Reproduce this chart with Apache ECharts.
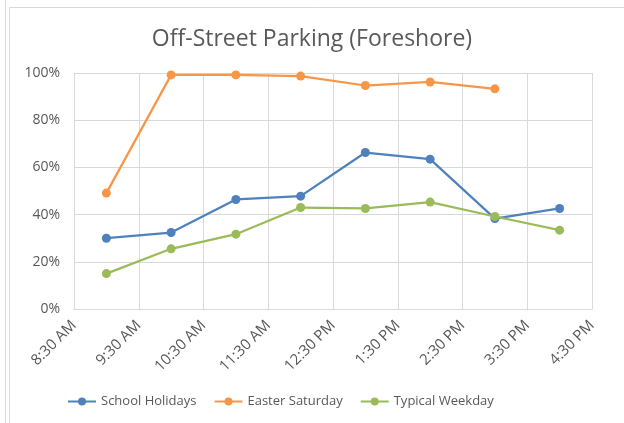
<!DOCTYPE html>
<html>
<head>
<meta charset="utf-8">
<script src="https://cdn.jsdelivr.net/npm/echarts@6/dist/echarts.min.js"></script>
<style>
  html, body { margin: 0; padding: 0; background: #fff; }
  #chart { width: 624px; height: 423px; }
</style>
</head>
<body>
<div id="chart"></div>
<script>
// observation times (hour of day) and occupancy (%)
var hours = [9, 10, 11, 12, 13, 14, 15, 16];
var schoolHolidays = [30.0, 32.4, 46.4, 47.8, 66.3, 63.5, 38.3, 42.6];
var easterSaturday = [49.1, 99.2, 99.2, 98.7, 94.7, 96.2, 93.3, null];
var typicalWeekday = [15.0, 25.5, 31.7, 43.0, 42.6, 45.3, 39.2, 33.4];
var xTickLabels = ['8:30 AM', '9:30 AM', '10:30 AM', '11:30 AM', '12:30 PM',
                   '1:30 PM', '2:30 PM', '3:30 PM', '4:30 PM'];
var yTicks = [0, 20, 40, 60, 80, 100];

var startHour = 8.5;

function pairs (vals) {
  return hours.map(function (h, i) {
    return [h - startHour, vals[i]];
  }).filter(function (p) { return p[1] != null; });
}

var font = '"Open Sans", "Noto Sans", sans-serif';

function mkSeries (name, vals, color) {
  return {
    name: name,
    type: 'line',
    data: pairs(vals),
    symbol: 'circle',
    symbolSize: 9,
    lineStyle: { width: 2.25, color: color },
    itemStyle: { color: color },
    emphasis: { disabled: true }
  };
}

var chart = echarts.init(document.getElementById('chart'));
chart.setOption({
  animation: false,
  color: ['#4F81BD', '#F79646', '#9BBB59'],
  title: {
    text: 'Off-Street Parking (Foreshore)',
    left: 'center',
    top: 23,
    textStyle: { color: '#595959', fontSize: 23, fontWeight: 'normal', fontFamily: font }
  },
  legend: {
    bottom: 10,
    left: 62,
    itemGap: 17,
    itemWidth: 28,
    itemHeight: 10,
    textStyle: { color: '#595959', fontSize: 13, fontFamily: font },
    data: ['School Holidays', 'Easter Saturday', 'Typical Weekday']
  },
  grid: { left: 74, right: 32, top: 73, bottom: 114, containLabel: false },
  xAxis: {
    type: 'value',
    min: 0,
    max: xTickLabels.length - 1,
    interval: 1,
    axisLine: { show: true, lineStyle: { color: '#D9D9D9', width: 1 } },
    axisTick: { show: false },
    splitLine: { show: true, lineStyle: { color: '#D9D9D9', width: 1 } },
    axisLabel: {
      rotate: 45,
      margin: 14,
      color: '#595959',
      fontSize: 15,
      fontFamily: font,
      showMinLabel: true,
      showMaxLabel: true,
      formatter: function (v) { return xTickLabels[Math.round(v)]; }
    }
  },
  yAxis: {
    type: 'value',
    min: yTicks[0],
    max: yTicks[yTicks.length - 1],
    interval: 20,
    axisLine: { show: false },
    axisTick: { show: false },
    splitLine: { lineStyle: { color: '#D9D9D9', width: 1 } },
    axisLabel: {
      color: '#595959',
      fontSize: 14,
      fontFamily: font,
      margin: 14,
      formatter: '{value}%'
    }
  },
  graphic: [
    { type: 'line', shape: { x1: 5.5, y1: 0, x2: 5.5, y2: 423 },
      style: { stroke: '#D9D9D9', lineWidth: 1 } },
    { type: 'polyline', shape: { points: [[9.5, 423], [9.5, 7.5], [624, 7.5]] },
      style: { stroke: '#D9D9D9', lineWidth: 1, fill: null } }
  ],
  series: [
    mkSeries('School Holidays', schoolHolidays, '#4F81BD'),
    mkSeries('Easter Saturday', easterSaturday, '#F79646'),
    mkSeries('Typical Weekday', typicalWeekday, '#9BBB59')
  ]
});
</script>
</body>
</html>
